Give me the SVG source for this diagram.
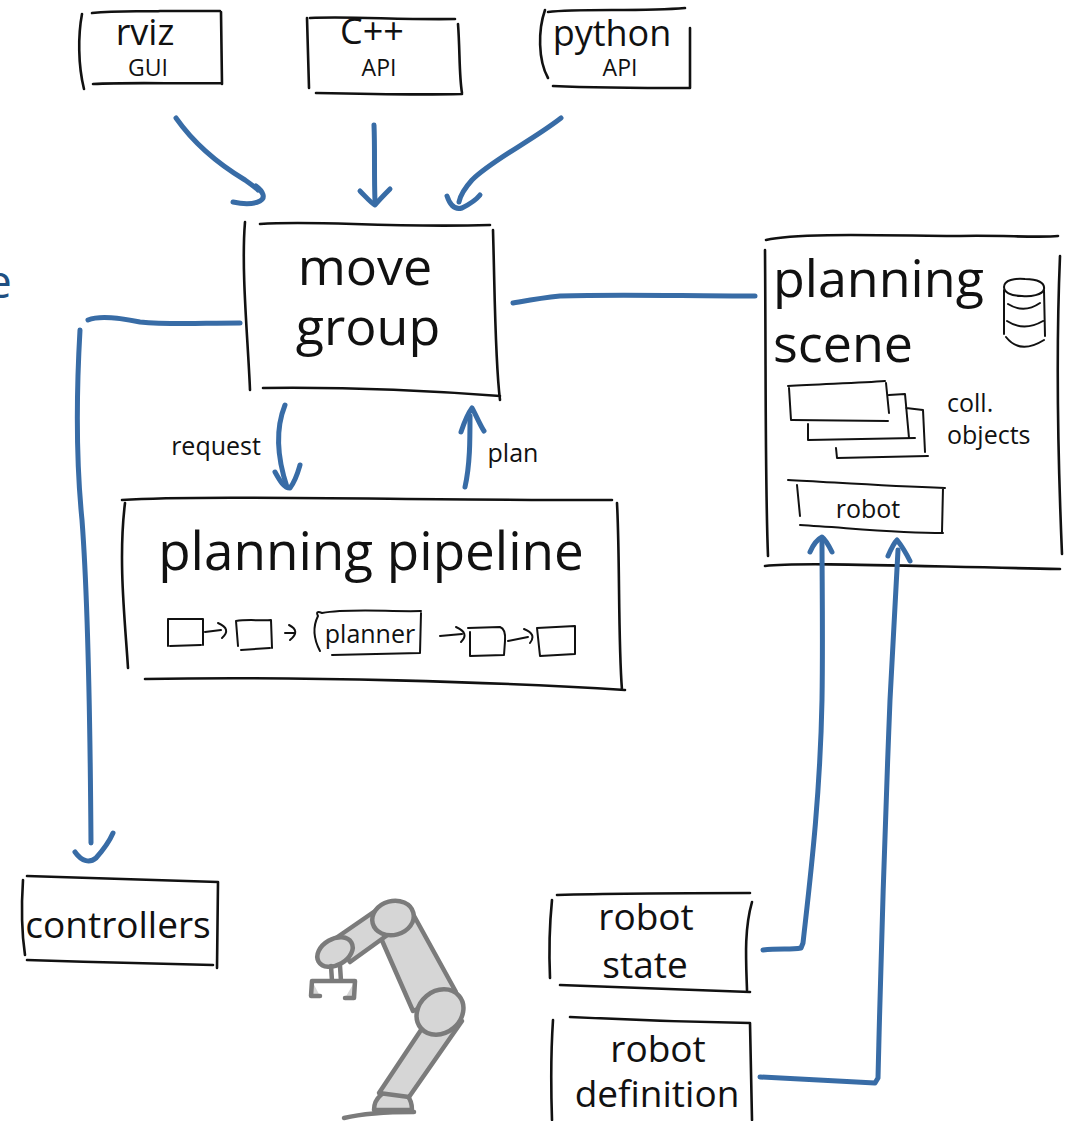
<svg xmlns="http://www.w3.org/2000/svg" width="1076" height="1121" viewBox="0 0 1076 1121">
  <style>
    .box { fill: none; stroke: #111; stroke-width: 2.6; stroke-linecap: round; stroke-linejoin: round; }
    .thin { fill: none; stroke: #111; stroke-width: 2; stroke-linecap: round; stroke-linejoin: round; }
    .link { fill: none; stroke: #386ca6; stroke-width: 5; stroke-linecap: round; stroke-linejoin: round; }
    .t { font-family: "Open Sans", "Noto Sans", "DejaVu Sans", sans-serif; fill: #111; text-anchor: middle; }
    .big { font-size: 52px; }
    .mid { font-size: 37px; }
    .top { font-size: 36px; }
    .sub { font-size: 23px; }
    .small { font-size: 25px; }
    .arm { fill: #d6d6d6; stroke: #7b7b7b; stroke-width: 4.5; stroke-linecap: round; stroke-linejoin: round; }
  </style>
  <rect width="1076" height="1121" fill="#fff"/>

  <!-- caption fragment at the left edge -->
  <text x="-14" y="298" style="font-family:'Open Sans','Noto Sans',sans-serif;font-size:46px;fill:#1f4f82">e</text>

  <!-- clients -->
  <g id="rviz">
    <path class="box" d="M82,14 C78,35 78,65 84,89 M92,13 C120,10 150,12 160,11 L220,11 M221,12 L222,84 M93,84 C130,82 180,84 222,83"/>
    <text class="t top" x="145" y="45">rviz</text>
    <text class="t sub" x="148" y="76">GUI</text>
  </g>
  <g id="cpp">
    <path class="box" d="M307,18 L309,88 M310,18 C350,16 400,20 455,19 M458,24 C460,50 459,75 462,93 M316,93 C360,94 420,95 462,94"/>
    <text class="t top" x="372" y="44">C++</text>
    <text class="t sub" x="379" y="76">API</text>
  </g>
  <g id="python">
    <path class="box" d="M545,10 C538,30 538,60 548,78 M548,12 C580,8 640,12 685,8 M690,28 L690,88 M553,86 C600,88 650,88 690,88"/>
    <text class="t top" x="612" y="46">python</text>
    <text class="t sub" x="620" y="76">API</text>
  </g>

  <!-- central node -->
  <g id="move_group">
    <path class="box" d="M245,222 C241,270 248,340 250,390 M260,224 C320,220 380,228 490,225 M493,230 C495,300 495,360 500,400 M263,388 C340,387 420,390 500,396"/>
    <text class="t big" x="365" y="285">move</text>
    <text class="t big" x="368" y="345">group</text>
  </g>

  <!-- planning pipeline with its stages -->
  <g id="planning_pipeline">
    <path class="box" d="M125,503 C118,560 125,620 128,668 M122,500 C200,495 400,500 590,500 L612,500 M617,503 C620,560 618,640 622,690 M145,679 C300,676 500,682 625,690"/>
    <text class="t big" x="371" y="570" style="font-size:53px">planning pipeline</text>
    <path class="thin" d="M168,619 L168,646 M168,619 L203,619 L203,645 M170,646 L201,645"/>
    <path class="thin" d="M205,632 L221,630 M218,623 Q232,629 222,638"/>
    <path class="thin" d="M236,621 C248,619 262,621 271,620 L272,648 M236,621 L238,646 M241,650 L270,648"/>
    <path class="thin" d="M285,633 L295,633 M289,625 Q301,631 290,640"/>
    <path class="thin" d="M322,613 C350,608 390,612 421,611 M322,613 Q315,610 318,616 Q310,632 320,651 M421,613 L420,653 M332,655 L420,653"/>
    <text class="t small" x="370" y="643">planner</text>
    <path class="thin" d="M440,636 L462,634 M456,627 Q470,633 461,642"/>
    <path class="thin" d="M468,628 L500,627 Q506,629 505,641 L504,655 M470,632 L470,656 L504,655"/>
    <path class="thin" d="M508,641 L528,637 M524,629 Q537,634 530,643"/>
    <path class="thin" d="M537,628 L575,626 L575,654 L540,656 L537,628"/>
  </g>

  <!-- planning scene with its contents -->
  <g id="planning_scene">
    <path class="box" d="M765,250 C766,380 765,480 768,556 M766,240 C800,232 900,236 960,236 C1000,235 1040,238 1058,236 M1060,256 C1056,350 1058,460 1062,554 M765,566 C800,562 900,566 1060,569"/>
    <text class="t big" x="773" y="297" style="text-anchor:start">planning</text>
    <text class="t big" x="773" y="362" style="text-anchor:start">scene</text>
    <!-- database symbol -->
    <path class="thin" d="M1004,287 C1004,280 1015,278 1025,279 C1038,279 1045,283 1044,289 C1043,295 1030,297 1022,296 C1010,296 1004,292 1004,287 Z M1004,290 L1004,334 M1044,290 L1045,336 M1008,304 Q1024,314 1040,303 M1007,321 Q1024,332 1043,321 M1006,337 Q1020,355 1044,340"/>
    <!-- collision objects -->
    <path class="thin" d="M788,386 C820,384 860,383 885,381 M789,388 L791,420 M792,420 L888,421 M886,383 L889,413 M889,395 L905,394 L909,438 M808,424 L808,440 L915,438 M906,408 L923,410 L925,452 M836,448 L837,458 L928,456"/>
    <text class="t small" x="947" y="412" style="text-anchor:start">coll.</text>
    <text class="t small" x="947" y="444" style="text-anchor:start">objects</text>
    <!-- robot model -->
    <path class="thin" d="M788,480 C830,482 880,486 945,488 M797,485 L800,516 M943,488 L942,532 M800,525 C850,528 900,533 943,533"/>
    <text class="t small" x="868" y="518">robot</text>
  </g>

  <!-- sinks and sources -->
  <g id="controllers">
    <path class="box" d="M23,880 C21,910 22,935 25,955 M27,876 C90,878 160,880 218,882 M218,882 L217,968 M27,960 C90,962 160,964 213,965"/>
    <text class="t mid" x="118" y="938">controllers</text>
  </g>
  <g id="robot_state">
    <path class="box" d="M552,900 C549,930 549,955 550,978 M557,895 C620,893 690,893 750,893 M752,902 C744,930 746,960 747,990 M560,985 C620,987 690,990 750,992"/>
    <text class="t mid" x="646" y="930">robot</text>
    <text class="t mid" x="645" y="978">state</text>
  </g>
  <g id="robot_definition">
    <path class="box" d="M553,1020 C551,1050 551,1090 552,1120 M570,1017 C630,1020 690,1022 750,1023 M750,1023 L752,1120"/>
    <text class="t mid" x="658" y="1062">robot</text>
    <text class="t mid" x="657" y="1107">definition</text>
  </g>

  <!-- robot arm sketch -->
  <g id="robot_arm">
    <path class="arm" d="M344,1118 C365,1113 390,1112 414,1112" fill="none"/>
    <path class="arm" d="M374,1110 C374,1097 385,1090 395,1090 C405,1090 412,1098 412,1110 Z"/>
    <path class="arm" d="M421,1030 L462,1021 L409,1097 L379,1093 Z"/>
    <path class="arm" d="M380,936 L413,914 L456,992 L413,1011 Z"/>
    <ellipse class="arm" cx="440" cy="1012" rx="25" ry="21" transform="rotate(-40 440 1012)"/>
    <path class="arm" d="M336,938 L378,909 L393,931 L350,962 Z"/>
    <ellipse class="arm" cx="393" cy="918" rx="21" ry="17" transform="rotate(-15 393 918)"/>
    <ellipse class="arm" cx="335" cy="952" rx="19" ry="13" transform="rotate(-30 335 952)"/>
    <path class="arm" fill="none" d="M331,966 L332,981 M340,966 L341,981 M312,981 L355,981 M312,981 L311,996 L320,996 M355,981 L354,998 L345,998"/>
  </g>

  <!-- connectors -->
  <g id="connectors">
    <path class="link" d="M176,118 C195,145 220,165 245,180 C252,185 256,188 258,190"/>
    <path class="link" d="M256,186 C263,191 266,198 260,201 C252,205 242,204 233,202"/>
    <path class="link" d="M374,125 C375,150 374,175 375,201"/>
    <path class="link" d="M360,191 C366,197 371,203 375,205 C380,199 385,194 390,189"/>
    <path class="link" d="M561,118 C530,142 492,160 472,180 C463,190 460,197 459,202"/>
    <path class="link" d="M447,196 C450,205 455,210 462,208 C470,204 476,200 480,195"/>
    <path class="link" d="M513,303 C530,300 540,298 560,296 C620,294 680,296 755,296"/>
    <path class="link" d="M240,323 C200,323 170,325 140,322 C120,318 100,315 88,320"/>
    <path class="link" d="M80,330 C76,400 76,460 82,520 C88,600 90,700 91,843"/>
    <path class="link" d="M75,852 C82,862 90,863 96,858 C104,849 110,840 113,833"/>
    <path class="link" d="M285,405 C275,430 278,460 287,487"/>
    <path class="link" d="M275,472 C280,481 284,488 290,488 C296,480 298,472 300,465"/>
    <text class="t small" x="216" y="455">request</text>
    <path class="link" d="M465,487 C470,465 470,440 470,416"/>
    <path class="link" d="M461,432 C465,420 469,412 472,408 C476,415 480,425 484,431"/>
    <text class="t small" x="513" y="462">plan</text>
    <path class="link" d="M763,950 C780,948 790,950 801,948 L803,943 C810,880 820,800 822,700 C823,640 822,580 822,540"/>
    <path class="link" d="M810,552 C813,545 818,539 822,537 C826,540 829,546 832,552"/>
    <path class="link" d="M760,1077 C800,1079 840,1081 875,1083 L878,1078 C880,1000 882,900 890,700 C893,640 896,590 898,550"/>
    <path class="link" d="M888,556 C891,549 894,543 897,540 C901,545 906,553 910,561"/>
  </g>
</svg>
